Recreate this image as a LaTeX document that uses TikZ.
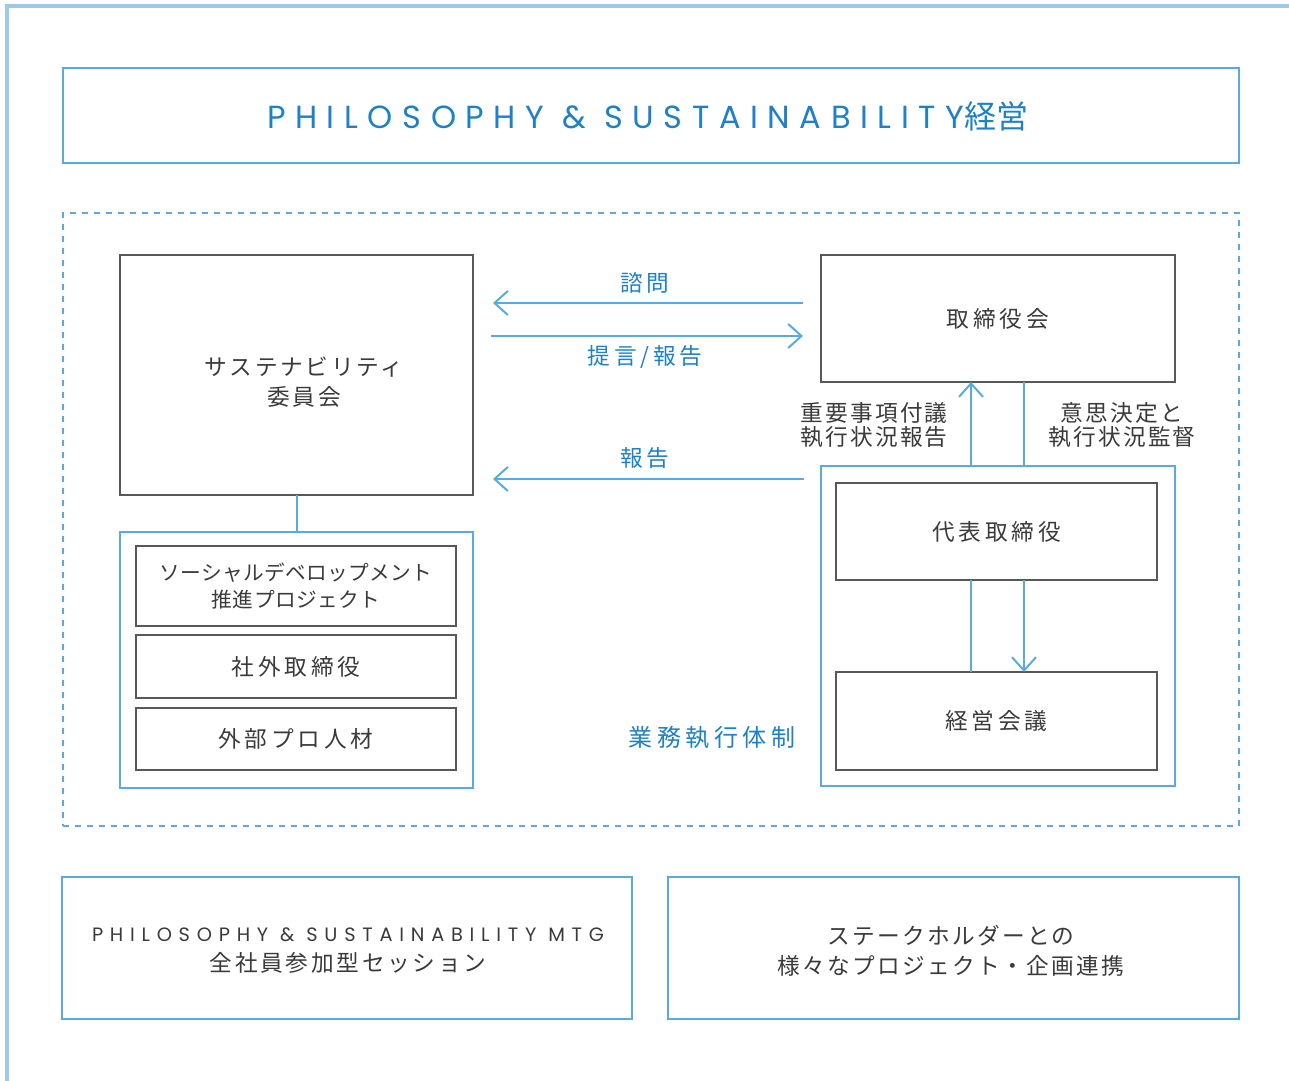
\documentclass[tikz,border=0pt]{standalone}
\usepackage{fontspec}
\usetikzlibrary{arrows.meta,calc}
\newfontfamily\jp[LetterSpace=17]{Noto Sans CJK JP}
\newfontfamily\jpm[LetterSpace=12]{Noto Sans CJK JP}
\newfontfamily\jps[LetterSpace=10]{Noto Sans CJK JP}
\newfontfamily\jpw[LetterSpace=19]{Noto Sans CJK JP}
\newfontfamily\jpt[LetterSpace=2]{Noto Sans CJK JP}
\newfontfamily\lat[LetterSpace=30]{Poppins}
\newfontfamily\latb[LetterSpace=35]{Poppins}
\definecolor{lblue}{HTML}{5AAADF}
\definecolor{tblue}{HTML}{1E80C6}
\definecolor{framec}{HTML}{9CCBE8}
\definecolor{gline}{HTML}{585858}
\definecolor{gtext}{HTML}{3A3A3A}
\def\P{0.75pt}
\tikzset{
  bluebox/.style={draw=lblue, line width=1.5pt, inner sep=0pt, outer sep=0pt},
  graybox/.style={draw=gline, line width=1.4pt, inner sep=0pt, outer sep=0pt},
  dashbox/.style={draw=lblue, line width=1.6pt, dash pattern=on 4.5pt off 4.5pt, inner sep=0pt, outer sep=0pt},
  jtext/.style={text=gtext, align=center, font=\fontsize{17}{22}\jp},
  btext/.style={text=tblue, align=center, font=\fontsize{17}{22}\jp},
  conn/.style={draw=lblue, line width=1.5pt},
  arr/.style={draw=lblue, line width=1.5pt, -{Straight Barb[length=10pt,width=18pt]}},
}
\begin{document}
\begin{tikzpicture}[x=0.75pt, y=-0.75pt]
\useasboundingbox (0,0) rectangle (1289,1081);
% outer frame
\draw[draw=framec, line width=2.4pt] (7,1081) -- (7,6) -- (1289,6);
% title
\node[bluebox, minimum width=1176*\P, minimum height=95*\P] (title) at (651,115.5) {};
\node[text=tblue] (titletext) at (648,116) {\fontsize{24}{28}\lat PHILOSOPHY \& SUSTAINABILITY\jpt 経営};
% dashed region
\node[dashbox, minimum width=1176*\P, minimum height=613*\P] (region) at (651,519.5) {};
% sustainability committee
\node[graybox, minimum width=353*\P, minimum height=240*\P] (sus) at (296.5,375) {};
\node[text=gtext, align=center, font=\fontsize{17}{22}\jpm] (sustext) at (304,382) {サステナビリティ\\委員会};
\node[bluebox, minimum width=353*\P, minimum height=256*\P] (grp) at (296.5,660) {};
\node[graybox, minimum width=320*\P, minimum height=80*\P, text=gtext, align=center, font=\fontsize{15.5}{20}\jpt] (sd) at (296,586) {ソーシャルデベロップメント\\推進プロジェクト};
\node[graybox, minimum width=320*\P, minimum height=63*\P, jtext] (sg) at (296,666.5) {社外取締役};
\node[graybox, minimum width=320*\P, minimum height=62*\P, jtext] (gp) at (296,739) {外部プロ人材};
\draw[conn] (sus.south) -- (grp.north);
% board
\node[graybox, minimum width=354*\P, minimum height=127*\P, jtext] (board) at (998,318.5) {取締役会};
\node[bluebox, minimum width=354*\P, minimum height=320*\P] (exec) at (998,626) {};
\node[graybox, minimum width=321*\P, minimum height=97*\P, jtext] (ceo) at (996.5,531.5) {代表取締役};
\node[graybox, minimum width=321*\P, minimum height=98*\P, jtext] (mgmt) at (996.5,721) {経営会議};
% horizontal arrows
\coordinate (a1s) at (803,303); \coordinate (a1e) at (493,303);
\coordinate (a2s) at (491,336); \coordinate (a2e) at (803,336);
\coordinate (a3s) at (804,479); \coordinate (a3e) at (493,479);
\draw[arr] (a1s) -- (a1e);
\draw[arr] (a2s) -- (a2e);
\draw[arr] (a3s) -- (a3e);
\node[btext] (l1) at (645,283) {諮問};
\node[btext] (l2) at (645,357) {提言/報告};
\node[btext] (l3) at (645,458) {報告};
% vertical connectors
\draw[arr] ($(exec.north)+(-27,0)$) -- ($(board.south)+(-27,0)$);
\draw[conn] ($(board.south)+(26,0)$) -- ($(exec.north)+(26,0)$);
\draw[conn] ($(ceo.south)+(-25.5,0)$) -- ($(mgmt.north)+(-25.5,0)$);
\draw[arr] ($(ceo.south)+(27.5,0)$) -- ($(mgmt.north)+(27.5,0)$);
\node[text=gtext, align=center, font=\fontsize{17}{18}\jps] (lv1) at (874,425) {重要事項付議\\執行状況報告};
\node[text=gtext, align=center, font=\fontsize{17}{18}\jps] (lv2) at (1122,425) {意思決定と\\執行状況監督};
\node[text=tblue, font=\fontsize{18}{22}\jpw] (execlabel) at (712,738) {業務執行体制};
% bottom boxes
\node[bluebox, minimum width=570*\P, minimum height=142*\P] (mtg) at (347,948) {};
\node[text=gtext, align=center, font=\fontsize{17}{22.5}\jpm] (mtgtext) at (348,951) {{\fontsize{14.5}{22.5}\latb PHILOSOPHY \& SUSTAINABILITY MTG}\\全社員参加型セッション};
\node[bluebox, minimum width=571*\P, minimum height=142*\P] (stk) at (953.5,948) {};
\node[text=gtext, align=center, font=\fontsize{17}{22.5}\jps] (stktext) at (951,951) {ステークホルダーとの\\様々なプロジェクト・企画連携};
\end{tikzpicture}
\end{document}
